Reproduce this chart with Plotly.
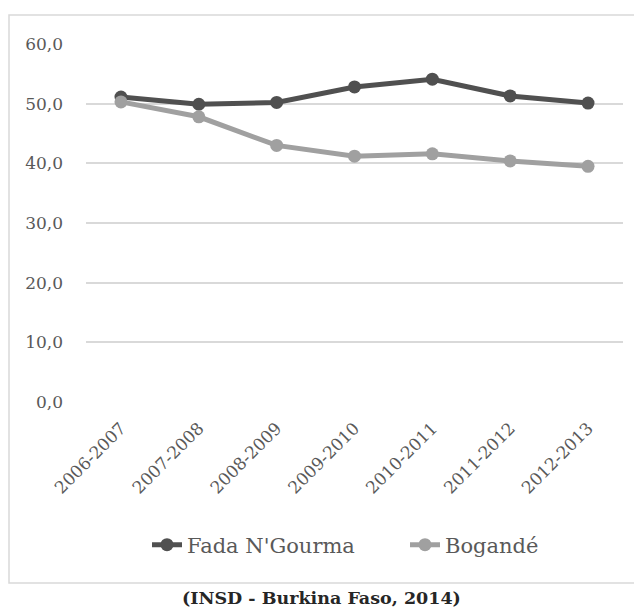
import plotly.graph_objects as go

categories = ["2006-2007", "2007-2008", "2008-2009", "2009-2010", "2010-2011", "2011-2012", "2012-2013"]
fada = [51.1, 49.9, 50.2, 52.8, 54.1, 51.3, 50.1]
bogande = [50.3, 47.8, 43.0, 41.2, 41.6, 40.4, 39.5]
series_names = ["Fada N'Gourma", "Bogandé"]
y_ticks = [0, 10, 20, 30, 40, 50, 60]
y_labels = ["0,0", "10,0", "20,0", "30,0", "40,0", "50,0", "60,0"]
caption = "(INSD - Burkina Faso, 2014)"

FONT = "DejaVu Serif"
OFF = 8  # page body margin
W, H = 642 - OFF, 610 - OFF
L, T = 86 - OFF, 44 - OFF
R = W - (623 - OFF)
B = H - (402 - OFF)

fig = go.Figure()
fig.add_trace(go.Scatter(x=categories, y=fada, name=series_names[0], mode="lines+markers",
                         line=dict(color="#505050", width=5), marker=dict(size=13, color="#505050"),
                         legend="legend"))
fig.add_trace(go.Scatter(x=categories, y=bogande, name=series_names[1], mode="lines+markers",
                         line=dict(color="#a0a0a0", width=5), marker=dict(size=13, color="#a0a0a0"),
                         legend="legend2"))

pw = W - L - R
ph = H - T - B
def px(xp):
    return (xp - OFF - L) / pw
def py(yp):
    return (H - B - (yp - OFF)) / ph

fig.add_shape(type="rect", xref="paper", yref="paper",
              x0=px(9), x1=px(643), y0=py(583), y1=py(15),
              line=dict(color="#d9d9d9", width=1.5), fillcolor="rgba(0,0,0,0)", layer="below")

fig.add_annotation(text="<b>" + caption + "</b>", xref="paper", yref="paper",
                   x=px(321), y=py(598), showarrow=False,
                   font=dict(family=FONT, size=17.5, color="#262626"), xanchor="center", yanchor="middle")

legend_common = dict(orientation="h", xanchor="left", yanchor="middle",
                     font=dict(family=FONT, size=21, color="#595959"), bgcolor="rgba(0,0,0,0)")

fig.update_layout(
    width=W, height=H,
    margin=dict(l=L, r=R, t=T, b=B),
    paper_bgcolor="white", plot_bgcolor="white",
    font=dict(family=FONT, color="#595959", size=17),
    showlegend=True,
    legend=dict(x=px(147), y=py(545), **legend_common),
    legend2=dict(x=px(405), y=py(545), **legend_common),
    xaxis=dict(type="category", tickangle=-45, showgrid=False, zeroline=False, showline=False,
               ticks="", ticklabelstandoff=12,
               tickfont=dict(family=FONT, size=17, color="#595959")),
    yaxis=dict(range=[0, 60], tickvals=y_ticks, ticktext=y_labels, showgrid=True,
               gridcolor="#d9d9d9", gridwidth=1.5, zeroline=False, showline=False, ticks="",
               ticklabelstandoff=22,
               tickfont=dict(family=FONT, size=17, color="#595959")),
)

fig.write_html("out.html")
